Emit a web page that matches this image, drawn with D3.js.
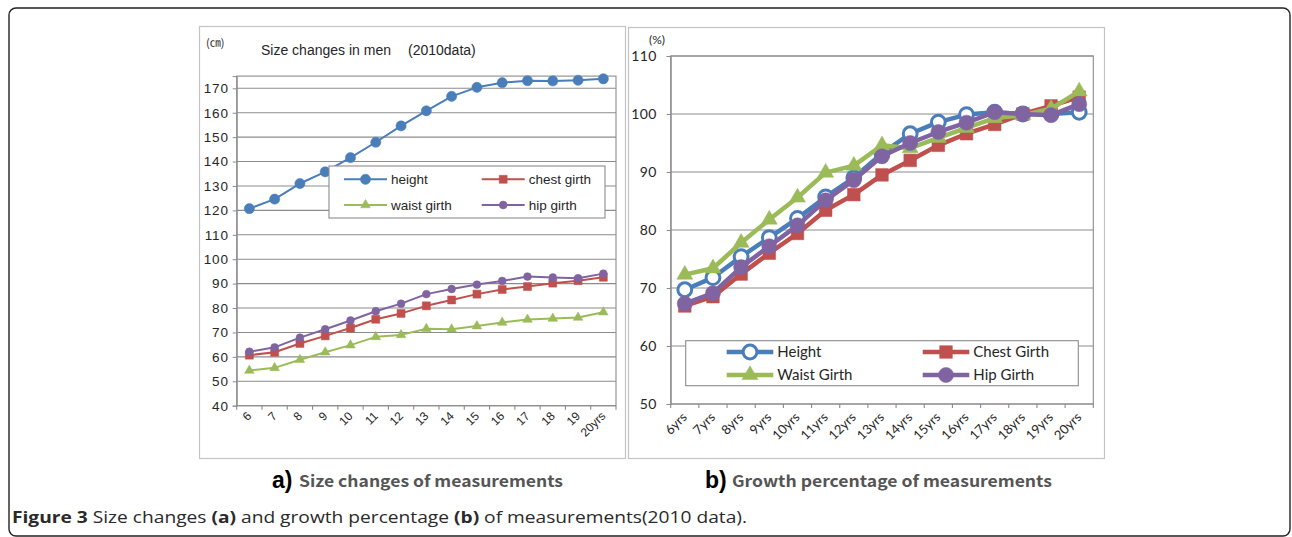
<!DOCTYPE html>
<html><head><meta charset="utf-8">
<script src="https://cdn.jsdelivr.net/npm/d3@7"></script>
<style>html,body{margin:0;padding:0;background:#fff;} svg{display:block;}</style>
</head><body>
<script>
// ---------- DATA ----------
const agesA = ["6","7","8","9","10","11","12","13","14","15","16","17","18","19","20yrs"];
const agesB = ["6yrs","7yrs","8yrs","9yrs","10yrs","11yrs","12yrs","13yrs","14yrs","15yrs","16yrs","17yrs","18yrs","19yrs","20yrs"];

const heightCm = [120.7,124.6,131.0,135.8,141.6,147.9,154.6,160.8,166.7,170.4,172.3,173.1,173.0,173.3,173.9];
const chestCm  = [60.7,61.9,65.5,68.6,71.8,75.4,77.8,80.9,83.3,85.7,87.6,88.8,90.2,91.2,92.6];
const waistCm  = [54.4,55.5,58.8,61.9,64.8,68.2,69.0,71.5,71.3,72.6,74.1,75.3,75.7,76.1,78.3];
const hipCm    = [62.1,63.9,67.9,71.3,74.9,78.7,81.8,85.7,87.8,89.6,91.1,92.9,92.5,92.2,94.1];

const heightPct = [69.7,71.8,75.4,78.7,82.0,85.7,89.0,93.2,96.6,98.6,99.9,100.3,100,100,100.3];
const chestPct  = [66.9,68.5,72.4,76.0,79.4,83.4,86.1,89.5,92.0,94.6,96.6,98.2,100,101.4,102.9];
const waistPct  = [72.3,73.4,77.8,81.8,85.6,89.9,91.1,94.6,94.1,95.9,97.6,99.3,99.8,100.9,103.9];
const hipPct    = [67.3,69.1,73.6,77.2,80.8,85.1,88.6,92.7,95.0,96.9,98.5,100.3,100,99.8,101.7];

const namesA = ["height","chest girth","waist girth","hip girth"];
const namesB = ["Height","Chest Girth","Waist Girth","Hip Girth"];
const colors = ["#4a7ebb","#c0504d","#9bbb59","#8064a2"];

const yTicksA = [40,50,60,70,80,90,100,110,120,130,140,150,160,170];
const yTicksB = [50,60,70,80,90,100,110];

// ---------- SVG ----------
const svg = d3.select("body").append("svg").attr("width",1292).attr("height",537);
svg.append("rect").attr("width",1292).attr("height",537).attr("fill","#fff");
svg.append("rect").attr("x",9).attr("y",8).attr("width",1281).attr("height",528).attr("rx",7)
  .attr("fill","none").attr("stroke","#222").attr("stroke-width",1.4);

// panel frames
svg.append("rect").attr("x",199.5).attr("y",26.5).attr("width",426).attr("height",432)
  .attr("fill","#fff").attr("stroke","#c4c4c4").attr("stroke-width",1.2);
svg.append("rect").attr("x",628.5).attr("y",27.5).attr("width",476).attr("height",431)
  .attr("fill","#fff").attr("stroke","#c4c4c4").attr("stroke-width",1.2);

const grid = "#8c8c8c";

function drawChart(cfg) {
  const g = svg.append("g");
  const x = d3.scaleBand().domain(cfg.cats).range(cfg.xr);
  const y = d3.scaleLinear().domain(cfg.yd).range(cfg.yr);
  const bw = x.bandwidth();
  g.selectAll(".gl").data(cfg.yTicks).join("line")
    .attr("x1",cfg.xr[0]).attr("x2",cfg.xr[1])
    .attr("y1",d=>y(d)).attr("y2",d=>y(d))
    .attr("stroke",grid).attr("stroke-width",1.1);
  g.append("rect").attr("x",cfg.xr[0]).attr("y",cfg.yr[1])
    .attr("width",cfg.xr[1]-cfg.xr[0]).attr("height",cfg.yr[0]-cfg.yr[1])
    .attr("fill","none").attr("stroke",grid).attr("stroke-width",1.1);
  const ya = g.append("g").attr("transform",`translate(${cfg.xr[0]},0)`)
    .call(d3.axisLeft(y).tickValues(cfg.yTicks).tickSize(4).tickPadding(cfg.tickPad).tickFormat(d3.format("d")));
  ya.select(".domain").attr("stroke",grid);
  ya.selectAll(".tick line").attr("stroke",grid);
  ya.selectAll(".tick text").attr("font-family",cfg.font).attr("font-size",cfg.yFs)
    .attr("fill","#262626").attr("letter-spacing",cfg.ls);
  const edges = cfg.cats.map(c=>x(c)).concat([x(cfg.cats[cfg.cats.length-1])+bw]);
  g.selectAll(".xt").data(edges).join("line")
    .attr("x1",d=>d).attr("x2",d=>d).attr("y1",cfg.yr[0]).attr("y2",cfg.yr[0]+4)
    .attr("stroke",grid).attr("stroke-width",1.1);
  g.selectAll(".xl").data(cfg.cats).join("text")
    .attr("transform",d=>`translate(${x(d)+bw/2+cfg.xlDx},${cfg.yr[0]+cfg.xlDy}) rotate(-45)`)
    .attr("text-anchor","end").attr("font-family",cfg.font).attr("font-size",cfg.xFs)
    .attr("fill","#262626").text(d=>d);
  const line = d3.line().x((d,i)=>x(cfg.cats[i])+bw/2).y(d=>y(d));
  cfg.series.forEach((s,k)=>{
    g.append("path").datum(s).attr("d",line).attr("fill","none")
      .attr("stroke",colors[k]).attr("stroke-width",cfg.lw).attr("stroke-linejoin","round");
    const m = cfg.markers[k];
    g.selectAll(null).data(s).join("path")
      .attr("transform",(d,i)=>`translate(${x(cfg.cats[i])+bw/2},${y(d)})`)
      .attr("d",d3.symbol().type(m.type).size(m.size))
      .attr("fill",m.hollow?"#fff":colors[k])
      .attr("stroke",colors[k]).attr("stroke-width",m.sw||0.5);
  });
  const L = cfg.legend;
  g.append("rect").attr("x",L.x).attr("y",L.y).attr("width",L.w).attr("height",L.h)
    .attr("fill","#fff").attr("stroke",grid).attr("stroke-width",1.1);
  cfg.names.forEach((n,k)=>{
    const col = k%2, row = Math.floor(k/2);
    const lx = L.cols[col], ly = L.rows[row];
    g.append("line").attr("x1",lx).attr("x2",lx+L.len).attr("y1",ly).attr("y2",ly)
      .attr("stroke",colors[k]).attr("stroke-width",cfg.lw);
    const m = cfg.markers[k];
    g.append("path").attr("transform",`translate(${lx+L.len/2},${ly})`)
      .attr("d",d3.symbol().type(m.type).size(m.size))
      .attr("fill",m.hollow?"#fff":colors[k]).attr("stroke",colors[k]).attr("stroke-width",m.sw||0.5);
    g.append("text").attr("x",lx+L.len+4).attr("y",ly).attr("dy","0.35em")
      .attr("font-family",cfg.font).attr("font-size",L.fs).attr("fill","#262626").text(n);
  });
  return g;
}

drawChart({
  cats: agesA, xr:[236.7,616], yd:[40,175], yr:[405.7,76.1], yTicks:yTicksA,
  font:"'Liberation Sans', Arial, sans-serif", yFs:13.5, xFs:12, ls:0.8, tickPad:4,
  xlDx:3, xlDy:11, lw:2,
  series:[heightCm,chestCm,waistCm,hipCm], names:namesA,
  markers:[{type:d3.symbolCircle,size:82},{type:d3.symbolSquare,size:64},
           {type:d3.symbolTriangle,size:40},{type:d3.symbolCircle,size:48}],
  legend:{x:329,y:166,w:276,h:52,cols:[344,481.7],rows:[179.3,205],len:43,fs:13.5}
});

drawChart({
  cats: agesB, xr:[670.7,1093.3], yd:[50,110], yr:[404,56], yTicks:yTicksB,
  font:"Lato, 'Open Sans', sans-serif", yFs:14, xFs:13, ls:0.4, tickPad:10,
  xlDx:3, xlDy:14, lw:4.5,
  series:[heightPct,chestPct,waistPct,hipPct], names:namesB,
  markers:[{type:d3.symbolCircle,size:150,hollow:true,sw:3},{type:d3.symbolSquare,size:160},
           {type:d3.symbolTriangle,size:110},{type:d3.symbolCircle,size:180}],
  legend:{x:685.7,y:340.7,w:392.6,h:45,cols:[726.7,922.7],rows:[352,375],len:46.6,fs:15}
});

// chart titles/units
svg.append("text").attr("x",206).attr("y",47).attr("font-family","'Noto Sans CJK KR', sans-serif")
  .attr("font-size",11).attr("fill","#262626").text("(㎝)");
svg.append("text").attr("x",261).attr("y",55).attr("font-family","'Liberation Sans', Arial, sans-serif")
  .attr("font-size",14).attr("fill","#262626").text("Size changes in men");
svg.append("text").attr("x",408).attr("y",55).attr("font-family","'Liberation Sans', Arial, sans-serif")
  .attr("font-size",14).attr("fill","#262626").text("(2010data)");
svg.append("text").attr("x",649).attr("y",44).attr("font-family","Lato, sans-serif")
  .attr("font-size",12).attr("fill","#262626").text("(%)");

// panel captions
function panelCap(x, letter, txt, tx, tw) {
  svg.append("text").attr("x",x).attr("y",488).attr("font-family","'Liberation Sans', Arial, sans-serif")
    .attr("font-weight","bold").attr("font-size",23).attr("fill","#000").text(letter);
  svg.append("text").attr("x",tx).attr("y",487).attr("font-family","'Noto Sans CJK KR', sans-serif")
    .attr("font-weight","bold").attr("font-size",16).attr("fill","#555")
    .attr("textLength",tw).attr("lengthAdjust","spacingAndGlyphs").text(txt);
}
panelCap(272,"a)","Size changes of measurements",299,264);
panelCap(705,"b)","Growth percentage of measurements",732,320);

// figure caption
const cap = svg.append("text").attr("x",12).attr("y",523)
  .attr("font-family","'Open Sans', 'Noto Sans', sans-serif").attr("font-size",16.5).attr("fill","#2a2a2a")
  .attr("textLength",735).attr("lengthAdjust","spacingAndGlyphs");
[["Figure 3",true],[" Size changes ",false],["(a)",true],[" and growth percentage ",false],["(b)",true],[" of measurements(2010 data).",false]]
  .forEach(([t,b])=>cap.append("tspan").attr("font-weight",b?"bold":"normal").text(t));
</script>
</body></html>
